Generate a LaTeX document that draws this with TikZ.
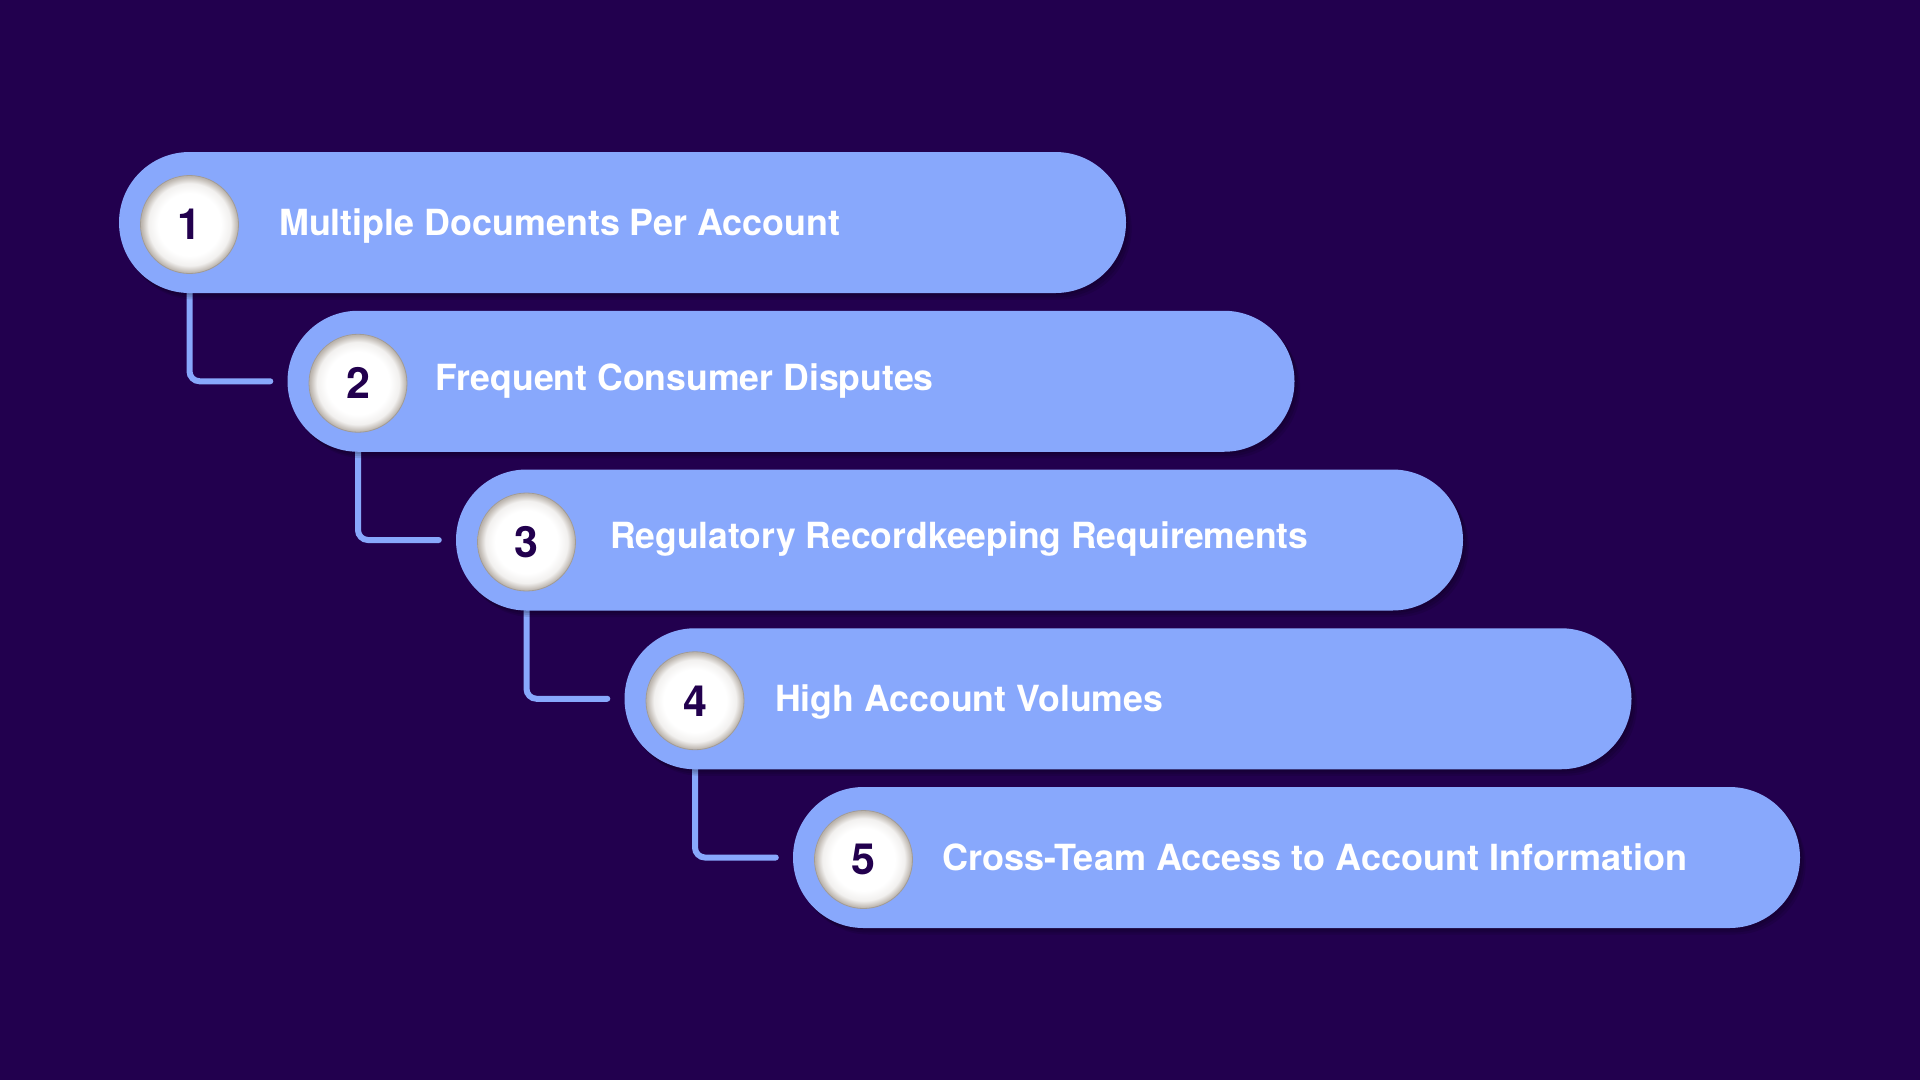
\documentclass[tikz,border=0pt]{standalone}
\usepackage{fontspec}
\setmainfont{TeX Gyre Heros}
\usetikzlibrary{calc}
\definecolor{bgc}{HTML}{22004E}
\definecolor{pillc}{HTML}{88A8FC}
\definecolor{rimc}{HTML}{BDB6AF}
\pgfdeclareradialshading{ballshade}{\pgfpoint{0bp}{0bp}}{color(0bp)=(white); color(16bp)=(white); color(21bp)=(white!80!rimc); color(24.5bp)=(rimc); color(50bp)=(rimc)}
\pgfdeclarelayer{bg}
\pgfdeclarelayer{mid}
\pgfsetlayers{bg,mid,main}
\tikzset{
  pill/.style={fill=pillc, rounded corners=70.5pt, minimum width=1007pt, minimum height=141pt, inner sep=0pt},
  pshadow/.style={fill=black, opacity=0.10, rounded corners=70.5pt},
  circ/.style={circle, shade, shading=ballshade, draw=rimc!85!black, line width=0.8pt, minimum size=98pt, inner sep=0pt,
    font=\fontsize{43}{43}\selectfont\bfseries, text=bgc},
  txt/.style={anchor=base west, inner sep=0pt, text=white, font=\fontsize{36}{36}\selectfont\bfseries},
  conn/.style={draw=pillc, line width=6pt, line cap=round, rounded corners=10pt}
}
\begin{document}
\begin{tikzpicture}[x=1pt,y=-1pt]
\begin{pgfonlayer}{bg}
\fill[bgc] (0,0) rectangle (1920,1080);
\end{pgfonlayer}
\useasboundingbox (0,0) rectangle (1920,1080);
\foreach \i/\tx/\tw/\ty/\lab in {1/279/561/13/Multiple Documents Per Account,
                              2/435.5/498/9/Frequent Consumer Disputes,
                              3/610/698/8.5/Regulatory Recordkeeping Requirements,
                              4/775/388/12.5/High Account Volumes,
                              5/942/745/13/Cross-Team Access to Account Information}{
  \pgfmathsetmacro\L{119+168.5*(\i-1)}
  \pgfmathsetmacro\cy{222.5+158.75*(\i-1)}
  \node[pill] (p\i) at (\L+503.5,\cy) {};
  \node[circ] (c\i) at (\L+70.5,\cy+2) {\i};
  \node[txt] (t\i) at (\tx,\cy+\ty) {\resizebox{\tw pt}{\height}{\lab}};
}
\foreach \i/\j in {1/2,2/3,3/4,4/5}{
  \coordinate (e\j) at ($(p\j.west)+(-17,0)$);
}
\begin{pgfonlayer}{mid}
\foreach \i/\j in {1/2,2/3,3/4,4/5}{
  \draw[conn] (c\i.center) |- (e\j);
}
\foreach \i in {1,...,5}{
  \foreach \s in {3,6,9}{
    \fill[pshadow] ($(p\i.north west)+(\s*0.6,\s*0.7)$) rectangle ($(p\i.south east)+(\s*0.6,\s*0.7)$);
  }
}
\end{pgfonlayer}
\end{tikzpicture}
\end{document}
